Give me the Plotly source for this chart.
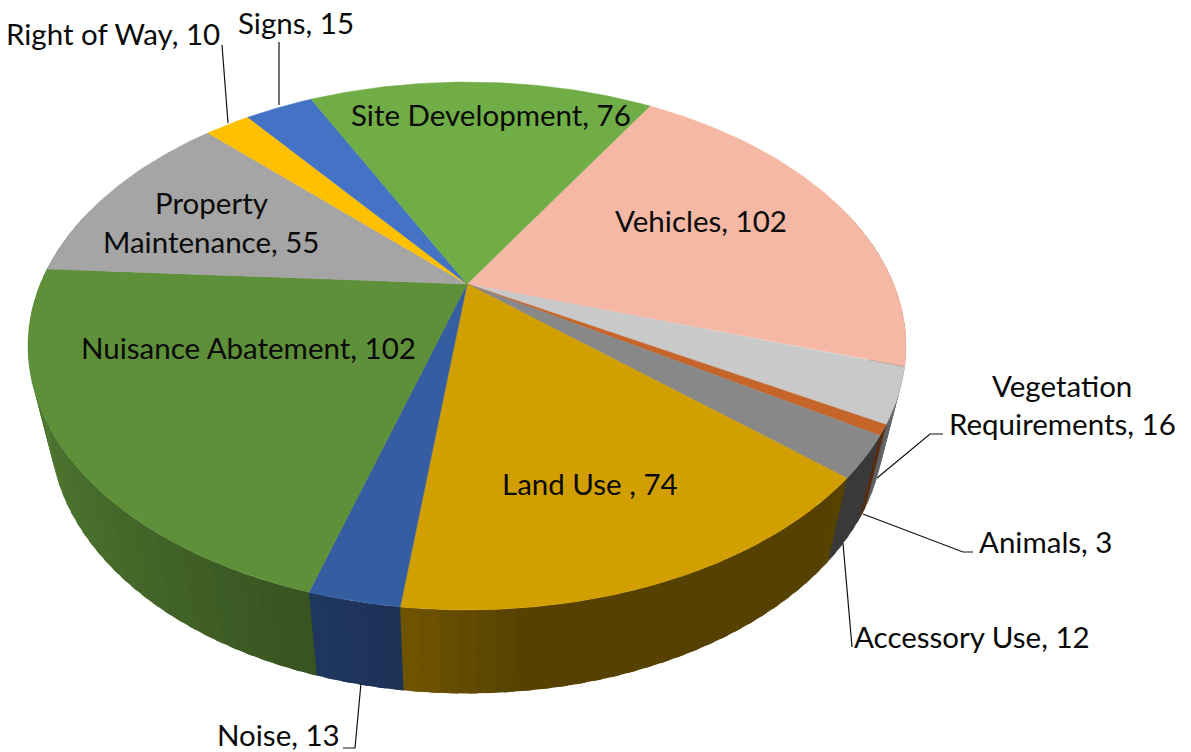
import numpy as np
import plotly.graph_objects as go

categories = ["Vehicles", "Vegetation Requirements", "Animals", "Accessory Use", "Land Use ",
              "Noise", "Nuisance Abatement", "Property Maintenance", "Right of Way", "Signs",
              "Site Development"]
values = [102, 16, 3, 12, 74, 13, 102, 55, 10, 15, 76]
colors = ["#F5B8A5", "#C9C9C9", "#C5652A", "#888888", "#D19F00", "#355DA1", "#5E8F39",
          "#A5A5A5", "#FFC000", "#4472C4", "#70AD47"]

FIRST_ANGLE = 31.0
CX, CY, A, B, K = 467.0, 284.0, 426.7, 249.4, 0.2349
SCALE, Y_OFF = 0.95, 83.5


def top_xy(deg):
    t = np.radians(deg)
    u, v = np.sin(t), np.cos(t)
    w = 1 + K * v
    return CX + A * u / w, CY - B * v / w


def bottom_xy(deg):
    x, y = top_xy(deg)
    return CX + SCALE * (x - CX), y + Y_OFF


def shade(hex_color, f):
    r, g, b = (int(hex_color[i:i + 2], 16) for i in (1, 3, 5))
    return f"rgb({r * f:.0f},{g * f:.0f},{b * f:.0f})"


def side_factor(deg):
    u = np.sin(np.radians(deg))
    return float(np.interp(u, [-1, -0.35, -0.1, 0.1, 0.7, 0.85, 1],
                           [0.85, 0.60, 0.53, 0.41, 0.41, 0.43, 0.65]))


edges = FIRST_ANGLE + np.concatenate([[0], np.cumsum(values)]) * 360.0 / sum(values)
fig = go.Figure()

# side walls, painted first; each strip runs a little under the next one so no seams show
for i, color in enumerate(colors):
    a0, a1 = edges[i], edges[i + 1]
    n = max(1, int(np.ceil((a1 - a0) / 2.0)))
    steps = np.linspace(a0, a1, n + 1)
    for s0, s1 in zip(steps[:-1], steps[1:]):
        mid = (s0 + s1) / 2
        if np.cos(np.radians(mid)) > 0.3:
            continue
        c = shade(color, side_factor(mid))
        sub = np.linspace(s0, s1 + 1.0, 4)
        tx, ty = top_xy(sub)
        bx, by = bottom_xy(sub[::-1])
        fig.add_trace(go.Scatter(x=np.r_[tx, bx, tx[0]], y=np.r_[ty, by, ty[0]], mode="lines",
                                 fill="toself", fillcolor=c, line=dict(width=0),
                                 hoverinfo="skip", showlegend=False))

# top face
for i, (name, color) in enumerate(zip(categories, colors)):
    sub = np.linspace(edges[i], edges[i + 1], 80)
    x, y = top_xy(sub)
    fig.add_trace(go.Scatter(x=np.r_[CX, x, CX], y=np.r_[CY, y, CY], mode="lines", fill="toself",
                             fillcolor=color, line=dict(color=color, width=0.5), name=name,
                             hoverinfo="name", showlegend=False))

FONT = dict(family="Lato, Carlito, Calibri, sans-serif", size=29.5, color="#0a0a0a")
placed = [
    ("Right of Way, 10", 113, 33), ("Signs, 15", 296, 22), ("Site Development, 76", 491, 114),
    ("Vehicles, 102", 701, 220), ("Property", 211, 202), ("Maintenance, 55", 211, 241),
    ("Nuisance Abatement, 102", 248, 347), ("Land Use , 74", 590, 483), ("Noise, 13", 278, 734),
    ("Accessory Use, 12", 972, 636), ("Animals, 3", 1045, 541), ("Vegetation", 1062, 385),
    ("Requirements, 16", 1062, 423),
]
for text, x, y in placed:
    fig.add_annotation(x=x, y=y, text=text, showarrow=False, font=FONT, xanchor="center", yanchor="middle")

leaders = [
    [(222, 45), (228, 123)], [(279, 42), (279, 105)],
    [(877, 478), (930, 434), (943, 434)], [(863, 514), (963, 552), (973, 552)],
    [(843, 543), (852, 647)], [(361, 683), (355, 748), (343, 748)],
]
for pts in leaders:
    xs, ys = zip(*pts)
    fig.add_trace(go.Scatter(x=xs, y=ys, mode="lines", line=dict(color="#111111", width=1.2),
                             hoverinfo="skip", showlegend=False))

fig.update_layout(width=1191, height=752, margin=dict(l=0, r=0, t=0, b=0),
                  paper_bgcolor="white", plot_bgcolor="white", showlegend=False,
                  xaxis=dict(range=[0, 1191], visible=False, fixedrange=True),
                  yaxis=dict(range=[752, 0], visible=False, fixedrange=True))
fig.write_html("out.html", post_script="document.body.style.margin='0';document.body.style.overflow='hidden';",
               config=dict(displayModeBar=False))
